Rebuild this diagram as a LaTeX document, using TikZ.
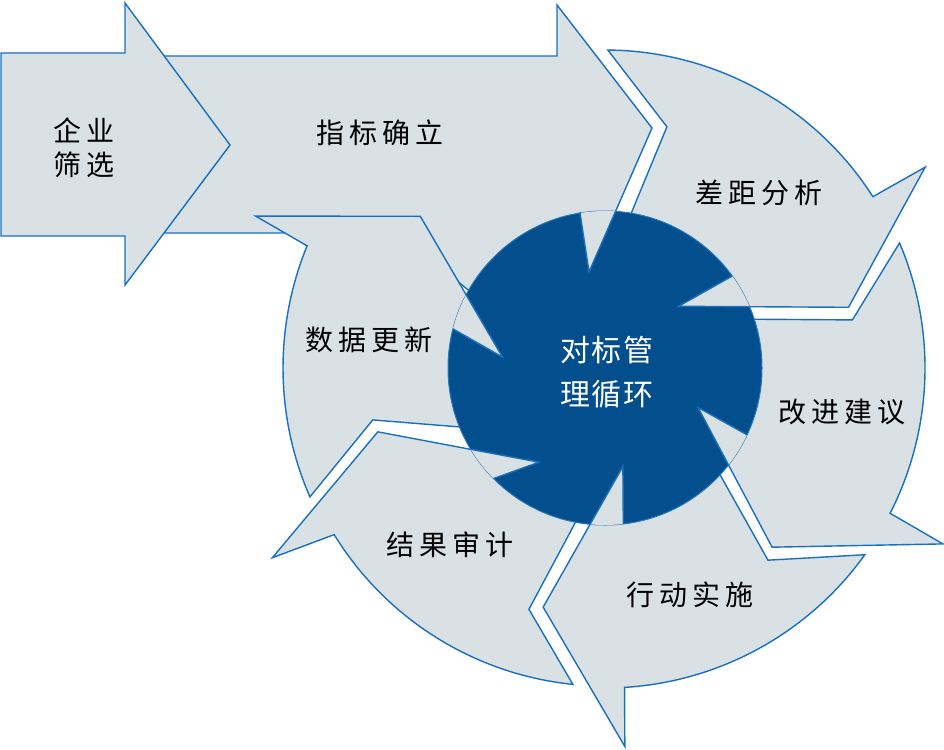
\documentclass[tikz,border=0pt]{standalone}
\usepackage{fontspec}
\newfontfamily\cjk[LetterSpace=18]{Noto Sans CJK SC}
\newfontfamily\cjkc[LetterSpace=6]{Noto Sans CJK SC}
\definecolor{lightf}{RGB}{217,225,229}
\definecolor{edge}{RGB}{24,112,190}
\definecolor{darkb}{RGB}{3,78,140}
\definecolor{darkedge}{RGB}{40,120,190}
\tikzset{lt/.style={fill=lightf, draw=edge, line width=1.4pt, line join=miter},
  lab/.style={font=\cjk\fontsize{28}{34}\selectfont, text=black, inner sep=0pt, align=center},
  clab/.style={font=\cjkc\fontsize{30}{44}\selectfont, text=white, inner sep=0pt, align=center}}
\begin{document}
\begin{tikzpicture}[x=1pt,y=-1pt]
\useasboundingbox (0,0) rectangle (944,749);
% straight arrows
\draw[lt] (150,56) -- (557,56) -- (557,5) -- (652,128) -- (589,272) -- (580,213) -- (480,300) -- (400,233) -- (150,233) -- cycle;
\draw[lt] (1,53) -- (125,53) -- (125,3) -- (230,145) -- (125,285) -- (125,236) -- (1,236) -- cycle;
\begin{scope}[shift={(605,368)},yscale=-1]
% ring arrows
\draw[lt] (89.5:318) arc[start angle=89.5,end angle=32.6,radius=318] -- (32.1:378) -- (14:251) -- (40:96) -- (35.6:150) arc[start angle=35.6,end angle=81,radius=150] -- (75.6:249) -- cycle;
\draw[lt] (23:320) arc[start angle=23,end angle=-27,radius=320] -- (-27.5:381) -- (-47:245) -- (-23:101) -- (-24.8:150) arc[start angle=-24.8,end angle=19,radius=150] -- (11:252) -- cycle;
\draw[lt] (-35.7:320) arc[start angle=-35.7,end angle=-86.5,radius=320] -- (-87:379) -- (-104.5:247) -- (-79.7:100) -- (-86:150) arc[start angle=-86,end angle=-42,radius=150] -- (-49.7:252) -- cycle;
\draw[lt] (-95.8:318) arc[start angle=-95.8,end angle=-148.4,radius=318] -- (-150.3:383) -- (-164.3:236) -- (-125:115) -- (-136:150) arc[start angle=-136,end angle=-100,radius=150] -- (-107.5:253) -- cycle;
\draw[lt] (203.6:322) arc[start angle=203.6,end angle=157.7,radius=322] -- (156.5:381) -- (140.6:239) -- (174:103) -- (165:150) arc[start angle=165,end angle=203.4,radius=150] -- (192.6:238) -- cycle;
% centre
\fill[darkb] (0,0) circle (157);
\draw[darkedge, line width=1pt] (0,0) circle (157);
\begin{scope}
\clip (0,0) circle (157);
\draw[lt] (32.1:378) -- (14:251) -- (40:96) -- cycle;
\draw[lt] (-27.5:381) -- (-47:245) -- (-23:101) -- cycle;
\draw[lt] (-87:379) -- (-104.5:247) -- (-79.7:100) -- cycle;
\draw[lt] (-150.3:383) -- (-164.3:236) -- (-125:115) -- cycle;
\draw[lt] (156.5:381) -- (140.6:239) -- (174:103) -- cycle;
\draw[lt] (47,240) -- (-16,96) -- (-30,188) -- cycle;
\end{scope}
\end{scope}
% labels
\node[lab] (t1) at (84,148) {企业\\筛选};
\node[lab] (t2) at (380,133) {指标确立};
\node[lab] (t3) at (759,193) {差距分析};
\node[lab] (t4) at (842,412) {改进建议};
\node[lab] (t5) at (690,595) {行动实施};
\node[lab] (t6) at (450,545) {结果审计};
\node[lab] (t7) at (369,340) {数据更新};
\node[clab] (c) at (607,372) {对标管\\理循环};
\end{tikzpicture}
\end{document}
